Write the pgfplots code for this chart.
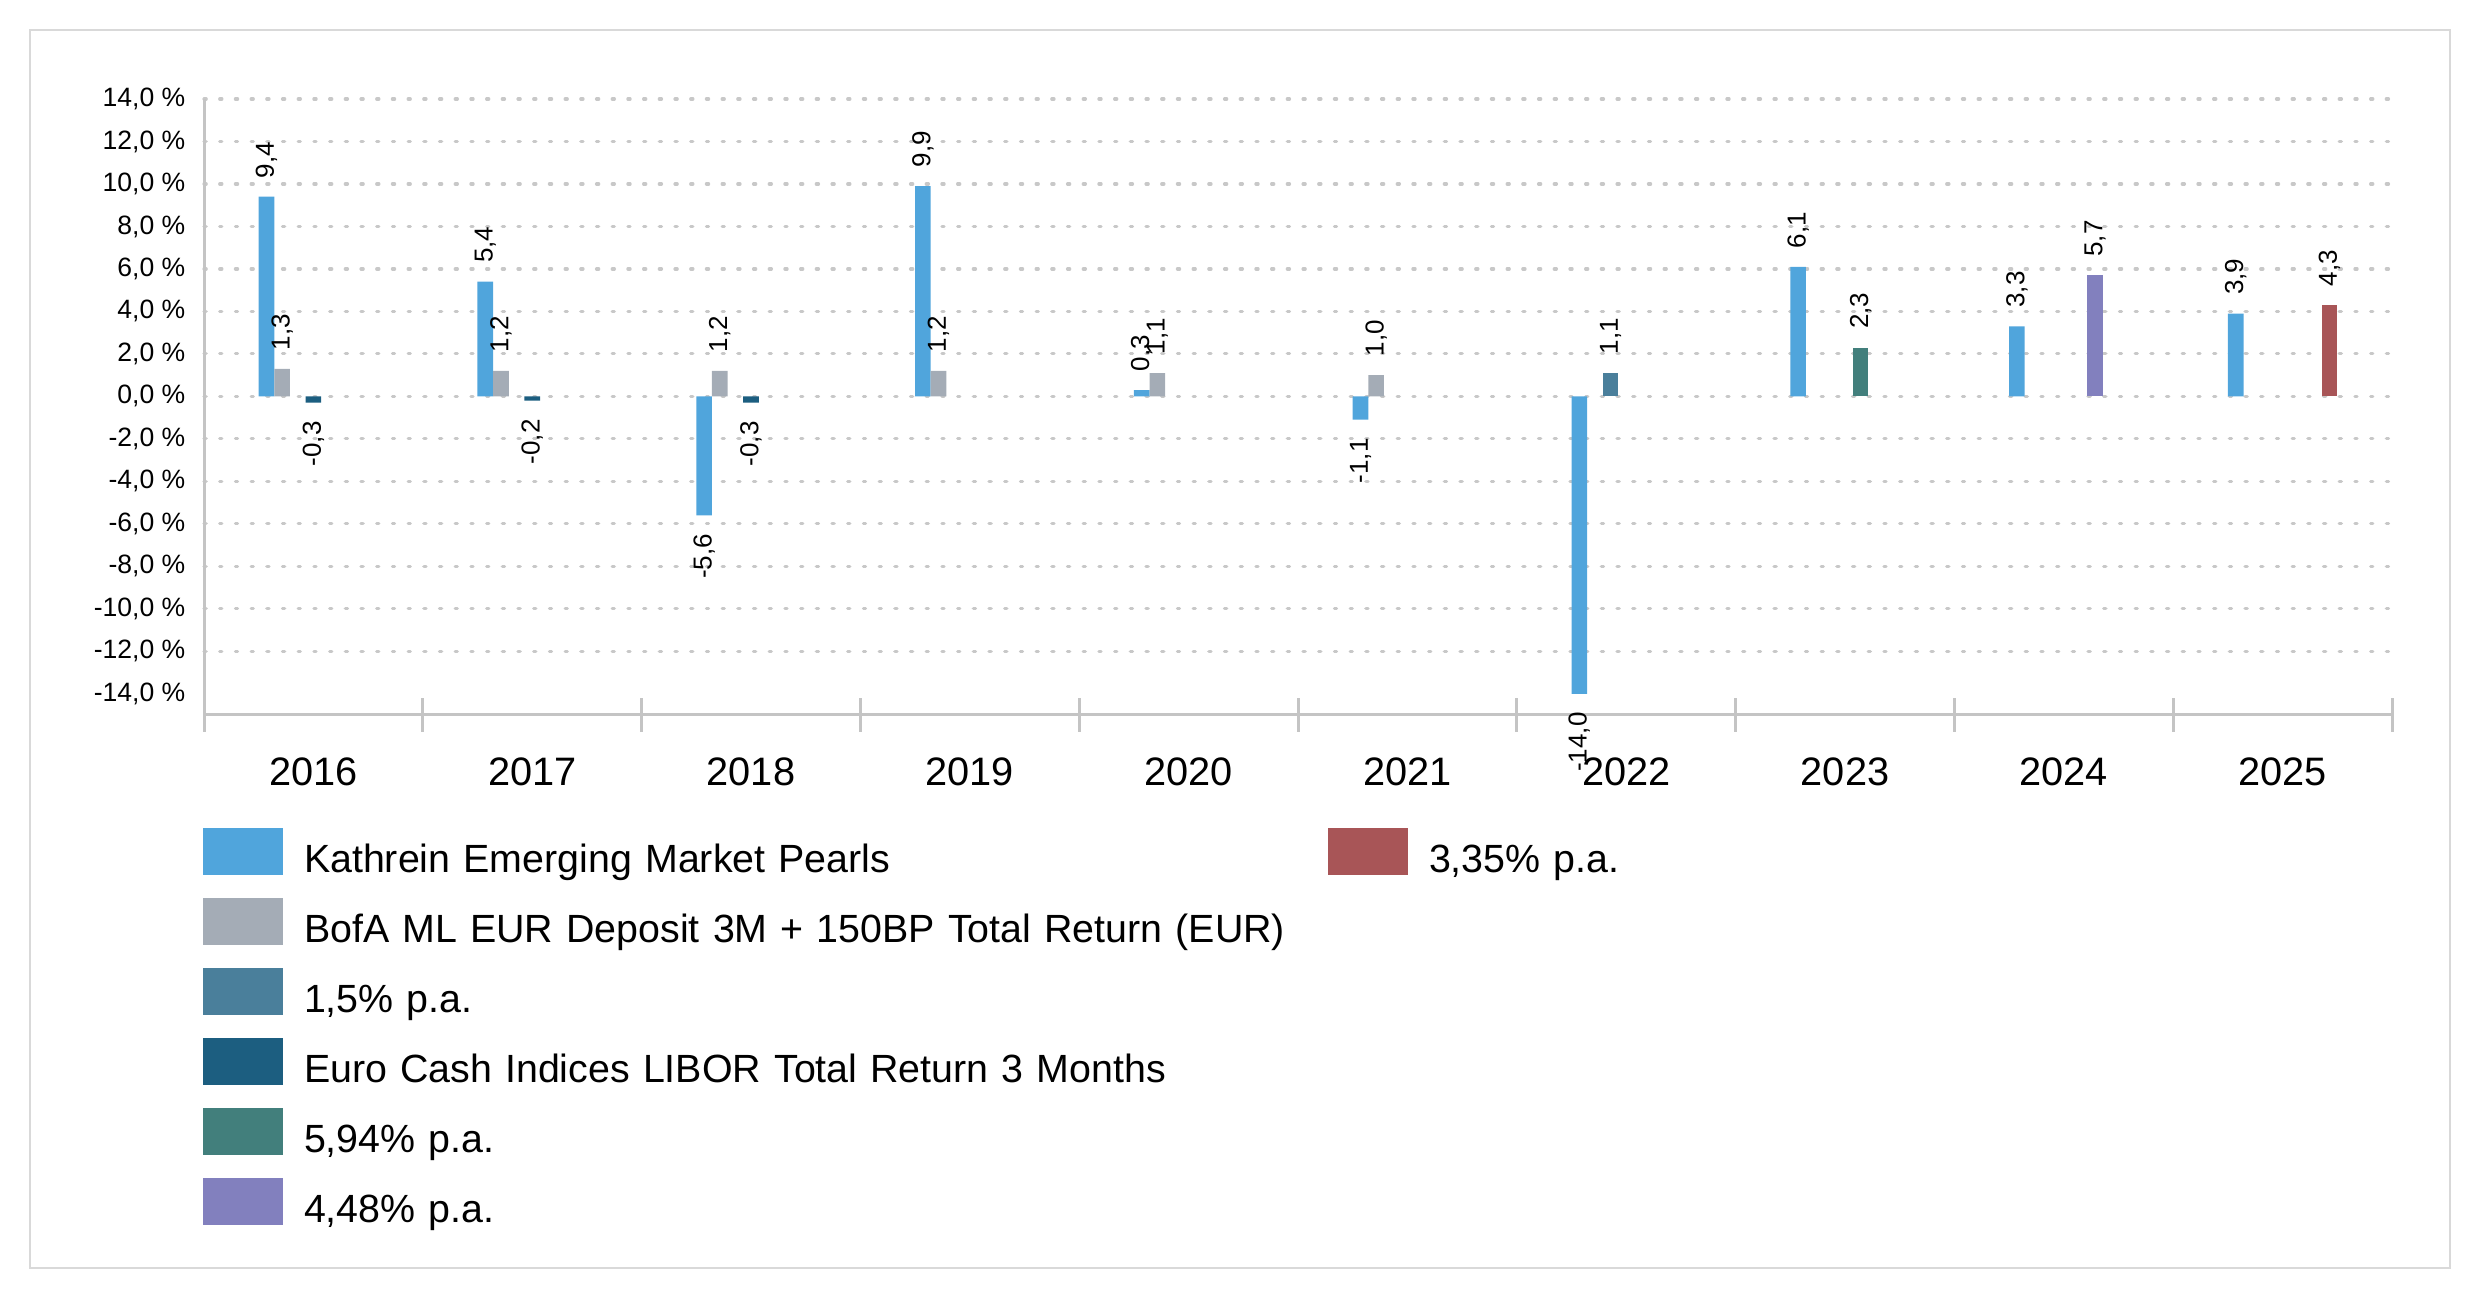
\documentclass[border=0pt]{standalone}
\usepackage{pgfplots}
\pgfplotsset{compat=1.18}
\usepackage{fontspec}
\setmainfont{Liberation Sans}

\definecolor{kath}{HTML}{50A5DC}
\definecolor{bofa}{HTML}{A4ACB6}
\definecolor{paA}{HTML}{4A7F9B}
\definecolor{euro}{HTML}{1C5E80}
\definecolor{paB}{HTML}{427F7C}
\definecolor{paC}{HTML}{8280BE}
\definecolor{paD}{HTML}{A85557}
\definecolor{gridgray}{HTML}{C8C8C8}
\definecolor{axisgray}{HTML}{C4C4C4}
\definecolor{framegray}{HTML}{D9D9D9}

\begin{document}
\begin{tikzpicture}
\path[use as bounding box] (0,0) rectangle (248mm,129.9mm);
\draw[framegray, line width=0.15mm] (3.0mm,3.1mm) rectangle (245.0mm,126.9mm);
\begin{axis}[
  at={(20.4mm,58.4mm)}, anchor=south west,
  width=218.8mm, height=61.6mm, scale only axis,
  ybar=0pt, bar width=1.563mm,
  xmin=-0.5, xmax=9.5, ymin=-15, ymax=14,
  axis x line*=bottom, axis y line*=left,
  axis line style={draw=axisgray, line width=0.3mm},
  xtick={0,...,9},
  xticklabels={2016,2017,2018,2019,2020,2021,2022,2023,2024,2025},
  minor xtick={-0.5,0.5,...,9.5},
  major tick length=0pt, minor tick length=3.4mm, tick align=center,
  minor tick style={draw=axisgray, line width=0.3mm},
  ytick={-12,-10,...,14},
  extra y ticks={-14}, extra y tick style={ymajorgrids=false},
  ymajorgrids,
  major grid style={draw=gridgray, line width=0.32mm, dash pattern=on 0.22mm off 1.35mm, line cap=round},
  /pgf/number format/.cd, fixed, fixed zerofill, precision=1, use comma, assume math mode=true,
  /pgfplots/.cd,
  yticklabel={\pgfmathprintnumber{\tick}~\%},
  yticklabel style={font=\fontsize{7.55}{9}\selectfont, anchor=east, inner xsep=0pt, xshift=-1.8mm},
  xticklabel style={font=\fontsize{11.3}{13}\selectfont, anchor=center, yshift=-5.65mm},
  nodes near coords,
  visualization depends on={rawy \as \rawy},
  every node near coord/.append style={font=\fontsize{7.4}{8}\selectfont, rotate=90,
    inner xsep=1.8mm, inner ysep=0pt, text=black},
  every node near coord/.append code={\ifdim\rawy pt<0pt\pgfkeysalso{anchor=east}\else\pgfkeysalso{anchor=west}\fi},
  clip=false,
  legend image code/.code={\fill[#1, draw=none] (0mm,-2.35mm) rectangle (8mm,2.35mm);},
  transpose legend, legend columns=6, legend cell align=left,
  legend style={draw=none, fill=none, inner sep=0pt, outer sep=0pt,
    at={(axis description cs:0,0)}, anchor=north west, xshift=-0.1mm, yshift=-11.3mm,
    font=\fontsize{11.2}{13}\selectfont,
    column sep=2.1mm, row sep=2.3mm,
    nodes={inner sep=0pt, text height=4.1mm, text depth=0pt, text width=100.3mm, align=left}},
]
\addplot[fill=kath, draw=none] coordinates {(0,9.4) (1,5.4) (2,-5.6) (3,9.9) (4,0.3) (5,-1.1) (6,-14.0) (7,6.1) (8,3.3) (9,3.9)};
\addlegendentry{Kathrein Emerging Market Pearls}
\addplot[fill=bofa, draw=none] coordinates {(0,1.3) (1,1.2) (2,1.2) (3,1.2) (4,1.1) (5,1.0)};
\addlegendentry{BofA ML EUR Deposit 3M + 150BP Total Return (EUR)}
\addplot[fill=paA, draw=none] coordinates {(6,1.1)};
\addlegendentry{1,5\% p.a.}
\addplot[fill=euro, draw=none] coordinates {(0,-0.3) (1,-0.2) (2,-0.3)};
\addlegendentry{Euro Cash Indices LIBOR Total Return 3 Months}
\addplot[fill=paB, draw=none] coordinates {(7,2.3)};
\addlegendentry{5,94\% p.a.}
\addplot[fill=paC, draw=none] coordinates {(8,5.7)};
\addlegendentry{4,48\% p.a.}
\addplot[fill=paD, draw=none] coordinates {(9,4.3)};
\addlegendentry{3,35\% p.a.}
% empty cells so that the transposed legend is complete
\addlegendimage{empty legend}\addlegendentry{}
\addlegendimage{empty legend}\addlegendentry{}
\addlegendimage{empty legend}\addlegendentry{}
\addlegendimage{empty legend}\addlegendentry{}
\addlegendimage{empty legend}\addlegendentry{}
\end{axis}
\end{tikzpicture}
\end{document}
